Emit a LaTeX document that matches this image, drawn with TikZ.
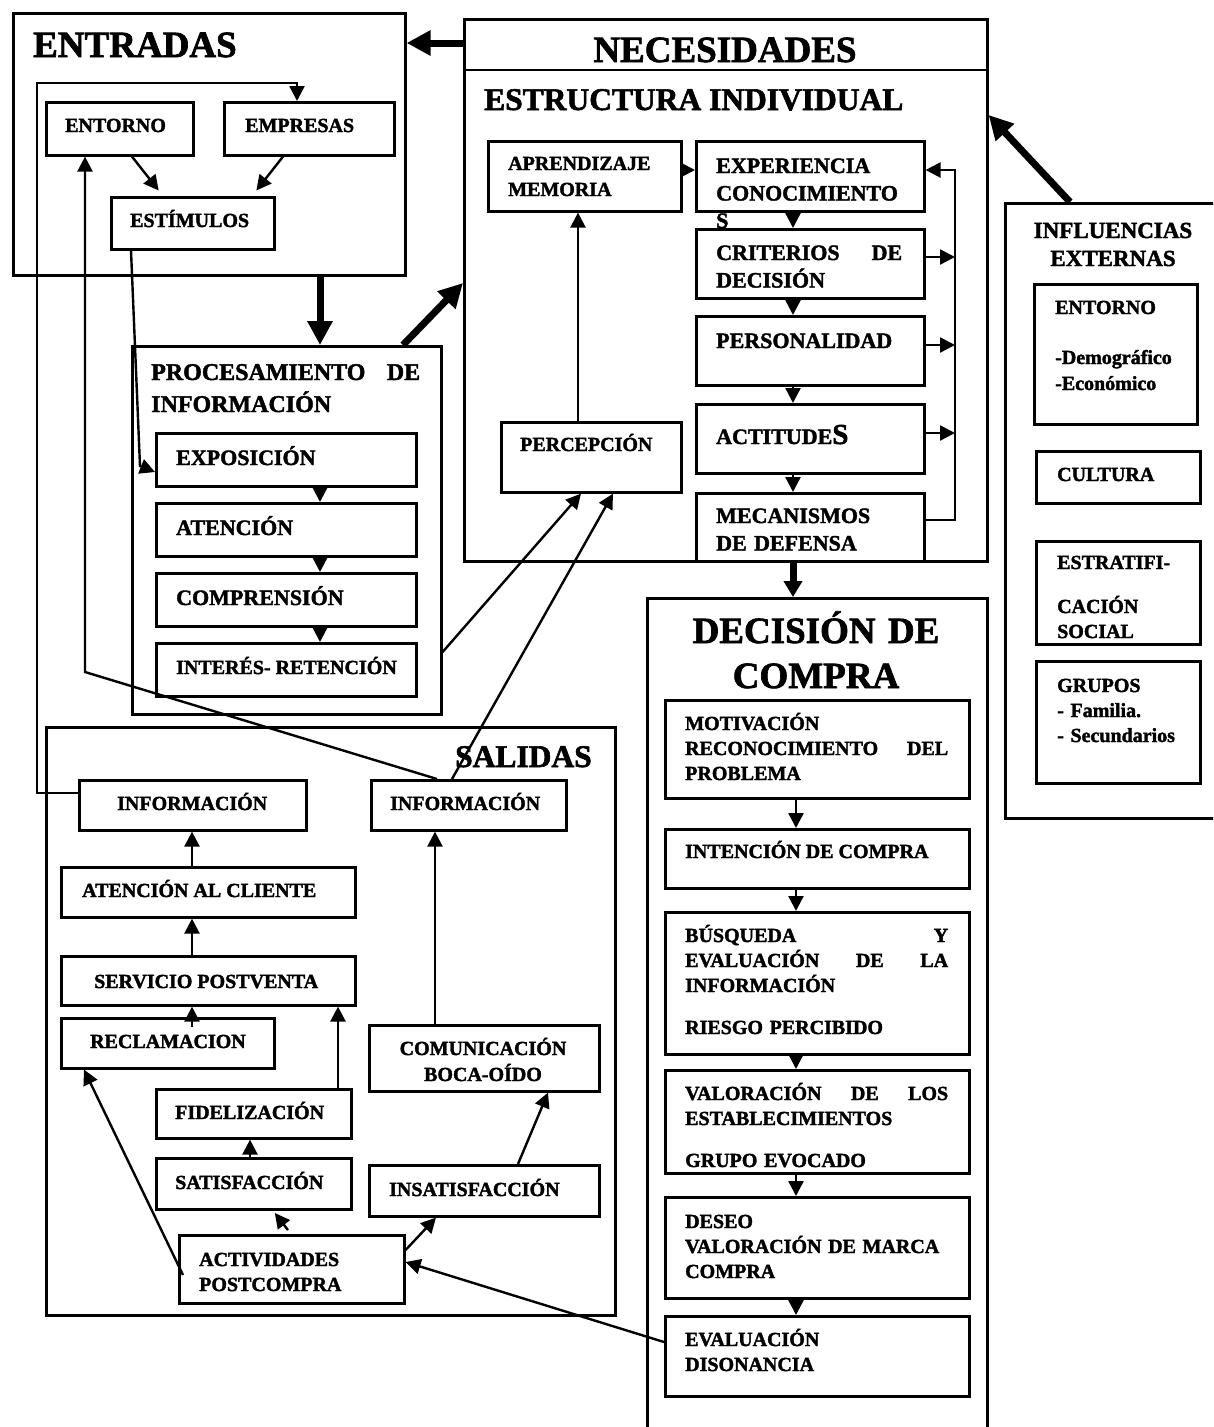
\documentclass[tikz,border=0pt]{standalone}
\usepackage{fontspec}
\setmainfont{Liberation Serif}[BoldFeatures={FakeBold=1.8}]
\usetikzlibrary{arrows.meta,calc}

\tikzset{
  every node/.style={inner sep=0pt},
  box/.style={draw, fill=white, line width=2.6pt, anchor=north west, inner sep=0pt},
  frame/.style={draw, line width=2.6pt},
  f20/.style={font=\fontsize{20}{25}\selectfont\bfseries},
  f22/.style={font=\fontsize{22}{27.5}\selectfont\bfseries},
  f23/.style={font=\fontsize{23}{28}\selectfont\bfseries},
  f24/.style={font=\fontsize{24}{32}\selectfont\bfseries},
  f31/.style={font=\fontsize{31.5}{36}\selectfont\bfseries},
  f37/.style={font=\fontsize{37}{45}\selectfont\bfseries},
  lbl/.style={anchor=base west, align=left},
  clbl/.style={anchor=base, align=center},
  arr/.style={line width=2.4pt, -{Triangle[length=15pt,width=15pt]}},
  bigarr/.style={line width=7pt, -{Triangle[length=24pt,width=24pt]}},
  medarr/.style={line width=7pt, -{Triangle[length=16pt,width=18pt]}},
}
% box: name, left, top, right, bottom
\newcommand{\bx}[5]{\node[box, minimum width={#4-#2}, minimum height={#5-#3}] (#1) at (#2,#3) {};}

\begin{document}
\begin{tikzpicture}[x=1pt,y=-1pt]
\useasboundingbox (0,0) rectangle (1213,1427);
\clip (0,0) rectangle (1213,1427);

% ---------------- ENTRADAS ----------------
\bx{entr}{12}{12}{404}{274}
\node[f37,lbl] (entr-t) at (33,57) {ENTRADAS};
\bx{entorno}{45}{101}{192}{154}
\node[f20,lbl] (entorno-t) at (65,132) {ENTORNO};
\bx{empr}{223}{101}{393}{154}
\node[f20,lbl] (empr-t) at (245,132) {EMPRESAS};
\bx{estim}{110}{196}{273}{248}
\node[f20,lbl] (estim-t) at (130,227) {ESTÍMULOS};

% ---------------- NECESIDADES ----------------
\bx{neces}{463}{18}{986}{560}
\draw[frame] (neces.west |- 0,70) -- (neces.east |- 0,70);
\node[f37,clbl,text width=500pt] (neces-t) at (725,62) {NECESIDADES};
\node[f31,lbl] (estr-t) at (484,110) {ESTRUCTURA INDIVIDUAL};
\bx{apren}{487}{140}{680}{210}
\node[f20,lbl,text width=170pt,font=\fontsize{20}{26}\selectfont\bfseries] (apren-t) at (508,170) {APRENDIZAJE\\MEMORIA};
\bx{exper}{695}{140}{923}{210}
\node[f22,lbl,text width=190pt] (exper-t) at (716,173) {EXPERIENCIA\\CONOCIMIENTO\\S};
\bx{crit}{695}{228}{923}{297}
\node[f22,lbl,text width=186pt] (crit-t) at (716,260) {CRITERIOS\hfill DE\\DECISIÓN};
\bx{pers}{695}{315}{923}{384}
\node[f22,lbl] (pers-t) at (716,348) {PERSONALIDAD};
\bx{acti}{695}{403}{923}{472}
\node[f22,lbl] (acti-t) at (716,444) {ACTITUDE{\fontsize{29}{29}\selectfont S}};
\bx{mecan}{695}{492}{923}{560}
\node[f22,lbl,text width=190pt] (mecan-t) at (716,523) {MECANISMOS\\DE DEFENSA};
\bx{percep}{500}{421}{680}{491}
\node[f20,lbl] (percep-t) at (520,451) {PERCEPCIÓN};
\coordinate (rail) at (955,170);

% ---------------- PROCESAMIENTO ----------------
\bx{proc}{131}{345}{440}{713}
\node[f24,lbl,text width=269pt] (proc-t) at (151,380) {PROCESAMIENTO\hfill DE\\INFORMACIÓN};
\bx{expo}{155}{432}{415}{485}
\node[f22,lbl] (expo-t) at (176,465) {EXPOSICIÓN};
\bx{aten}{155}{502}{415}{555}
\node[f22,lbl] (aten-t) at (176,535) {ATENCIÓN};
\bx{compr}{155}{572}{415}{625}
\node[f22,lbl] (compr-t) at (176,605) {COMPRENSIÓN};
\bx{inter}{155}{642}{415}{695}
\node[f20,lbl] (inter-t) at (176,674) {INTERÉS- RETENCIÓN};

% ---------------- SALIDAS ----------------
\bx{sal}{45}{726}{614}{1314}
\node[f31,lbl] (sal-t) at (455,767) {SALIDAS};
\bx{infoL}{78}{779}{305}{829}
\node[f20,lbl] (infoL-t) at (117,810) {INFORMACIÓN};
\bx{infoR}{370}{779}{565}{829}
\node[f20,lbl] (infoR-t) at (390,810) {INFORMACIÓN};
\bx{atcl}{60}{866}{354}{916}
\node[f20,lbl] (atcl-t) at (82,897) {ATENCIÓN AL CLIENTE};
\bx{serv}{60}{955}{354}{1004}
\node[f20,lbl] (serv-t) at (94,988) {SERVICIO POSTVENTA};
\bx{recl}{60}{1017}{273}{1067}
\node[f20,lbl] (recl-t) at (90,1048) {RECLAMACION};
\bx{fidel}{155}{1088}{350}{1137}
\node[f20,lbl] (fidel-t) at (175,1119) {FIDELIZACIÓN};
\bx{satis}{155}{1157}{350}{1208}
\node[f20,lbl] (satis-t) at (175,1189) {SATISFACCIÓN};
\bx{insat}{368}{1164}{598}{1215}
\node[f20,lbl] (insat-t) at (389,1196) {INSATISFACCIÓN};
\bx{comun}{368}{1024}{598}{1090}
\node[f20,clbl,text width=230pt,font=\fontsize{20}{26}\selectfont\bfseries] (comun-t) at (483,1055) {COMUNICACIÓN\\BOCA-OÍDO};
\bx{activ}{178}{1234}{403}{1302}
\node[f20,lbl,text width=200pt] (activ-t) at (199,1266) {ACTIVIDADES\\POSTCOMPRA};

% ---------------- DECISIÓN DE COMPRA ----------------
\bx{decis}{646}{597}{986}{1460}
\node[f37,clbl,text width=340pt] (decis-t) at (816,643) {DECISIÓN DE\\COMPRA};
\bx{motiv}{664}{699}{968}{797}
\node[f20,lbl,text width=263pt] (motiv-t) at (685,730) {MOTIVACIÓN\\RECONOCIMIENTO\hfill DEL\\PROBLEMA};
\bx{inten}{664}{828}{968}{887}
\node[f20,lbl] (inten-t) at (685,858) {INTENCIÓN DE COMPRA};
\bx{busq}{664}{911}{968}{1053}
\node[f20,lbl,text width=263pt] (busq-t) at (685,942) {BÚSQUEDA\hfill Y\\EVALUACIÓN\hfill DE\hfill LA\\INFORMACIÓN\\[17pt]RIESGO PERCIBIDO};
\bx{valor}{664}{1069}{968}{1172}
\node[f20,lbl,text width=263pt] (valor-t) at (685,1100) {VALORACIÓN\hfill DE\hfill LOS\\ESTABLECIMIENTOS\\[17pt]GRUPO EVOCADO};
\bx{deseo}{664}{1196}{968}{1297}
\node[f20,lbl,text width=263pt] (deseo-t) at (685,1228) {DESEO\\VALORACIÓN DE MARCA\\COMPRA};
\bx{evalu}{664}{1315}{968}{1395}
\node[f20,lbl,text width=263pt] (evalu-t) at (685,1346) {EVALUACIÓN\\DISONANCIA};

% ---------------- INFLUENCIAS EXTERNAS ----------------
\bx{influ}{1004}{202}{1250}{817}
\node[f23,clbl,text width=200pt] (influ-t) at (1113,238) {INFLUENCIAS\\EXTERNAS};
\bx{ient}{1033}{283}{1196}{423}
\node[f20,lbl,text width=150pt,font=\fontsize{20}{26}\selectfont\bfseries] (ient-t) at (1055,314) {ENTORNO\\[24pt]-Demográfico\\-Económico};
\bx{cult}{1035}{450}{1199}{502}
\node[f20,lbl] (cult-t) at (1057,481) {CULTURA};
\bx{estra}{1035}{540}{1199}{643}
\node[f20,lbl,text width=140pt] (estra-t) at (1057,569) {ESTRATIFI-\\[19pt]CACIÓN\\SOCIAL};
\bx{grup}{1035}{660}{1199}{782}
\node[f20,lbl,text width=140pt] (grup-t) at (1057,692) {GRUPOS\\- Familia.\\- Secundarios};

% ---------------- thick flows between blocks ----------------
\draw[bigarr] (neces.west |- 0,43) -- (entr.east |- 0,43);
\draw[bigarr] (influ.north -| 1070,0) -- (neces.east |- 0,115);
\draw[bigarr] (entr.south -| 320,0) -- (proc.north -| 320,0);
\draw[bigarr] (proc.north -| 403,0) -- (neces.west |- 0,283);
\draw[medarr] (mecan.south -| 793,0) -- (decis.north -| 793,0);

% ---------------- ENTRADAS links ----------------
\draw[arr, shorten >=7pt] (entorno.south -| 132,0) -- (estim.north -| 163,0);
\draw[arr, shorten >=7pt] (empr.south -| 283,0) -- (estim.north -| 252,0);
\draw[arr] (estim.south -| 131,0) -- (140,466) -- (expo.west |- 0,472);
\draw[arr] (infoL.west |- 0,793) -| (37,83) -| (empr.north -| 297,0);
\draw[arr] (infoR.north -| 437,0) -- (85,672) -- (entorno.south -| 85,0);

% ---------------- processing chain ----------------
\foreach \a/\b in {expo/aten, aten/compr, compr/inter}
  \draw[arr] (\a.south -| 320,0) -- (\b.north -| 320,0);
\draw[arr] (proc.east |- 0,652) -- (percep.south -| 581,0);
\draw[arr] (infoR.north -| 452,0) -- (percep.south -| 613,0);

% ---------------- individual structure ----------------
\draw[arr] (percep.north -| 578,0) -- (apren.south -| 578,0);
\draw[arr] (apren.east |- 0,170) -- (exper.west |- 0,170);
\foreach \a/\b in {exper/crit, crit/pers, pers/acti, acti/mecan}
  \draw[arr] (\a.south -| 793,0) -- (\b.north -| 793,0);
\draw[arr] (mecan.east |- 0,520) -- (rail |- 0,520) -- (rail) -- (exper.east |- rail);
\foreach \n/\y in {crit/257, pers/345, acti/433}
  \draw[arr] (\n.east |- 0,\y) -- (rail |- 0,\y);

% ---------------- purchase decision chain ----------------
\foreach \a/\b in {motiv/inten, inten/busq, busq/valor, valor/deseo, deseo/evalu}
  \draw[arr] (\a.south -| 796,0) -- (\b.north -| 796,0);

% ---------------- outputs ----------------
\draw[arr] (evalu.west |- 0,1342) -- (activ.east |- 0,1262);
\draw[arr] (activ.east |- 0,1250) -- (insat.south -| 436,0);
\draw[arr] (insat.north -| 518,0) -- (comun.south -| 548,0);
\draw[arr] (comun.north -| 435,0) -- (infoR.south -| 435,0);
\draw[arr, shorten <=5pt, shorten >=3pt] (activ.north -| 291,0) -- (satis.south -| 273,0);
\draw[arr] ($(activ.west |- 0,1275)+(5,0)$) -- (recl.south -| 84,0);
\draw[arr] (satis.north -| 250,0) -- (fidel.south -| 250,0);
\draw[arr] (fidel.north -| 338,0) -- (serv.south -| 338,0);
\draw[arr] ($(recl.north -| 192,0)+(0,10)$) -- (serv.south -| 192,0);
\draw[arr] (serv.north -| 192,0) -- (atcl.south -| 192,0);
\draw[arr] (atcl.north -| 192,0) -- (infoL.south -| 192,0);

\end{tikzpicture}
\end{document}
